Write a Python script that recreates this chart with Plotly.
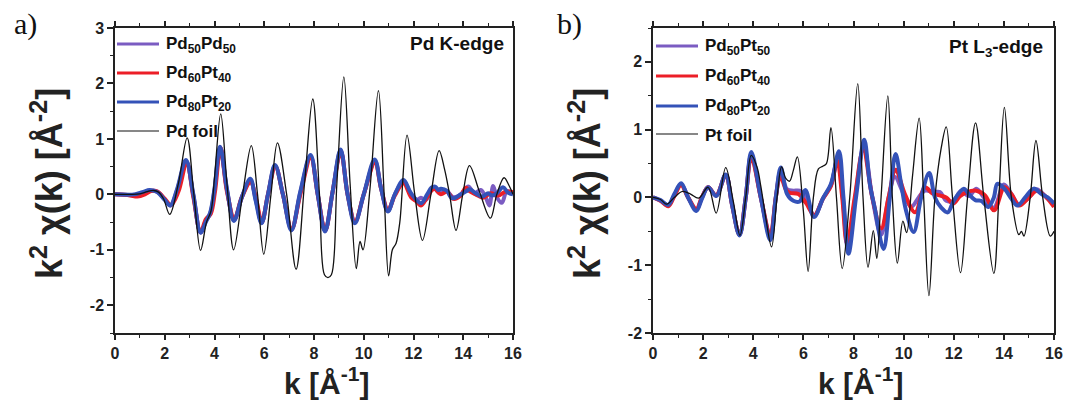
import plotly.graph_objects as go

W, H = 1075, 402

# ---------------- data : panel a (Pd K-edge) ----------------
A_NAMES = ["Pd<sub>50</sub>Pd<sub>50</sub>", "Pd<sub>60</sub>Pt<sub>40</sub>",
           "Pd<sub>80</sub>Pt<sub>20</sub>", "Pd foil"]

A_PURPLE_K = [0, 0.7, 1.0, 1.4, 1.7, 2.0, 2.23, 2.5, 2.86, 3.15, 3.44, 3.65, 3.83, 4.0, 4.23, 4.5, 4.79, 5.1, 5.44,
              5.66, 5.9, 6.15, 6.44, 6.75, 7.1, 7.45, 7.86, 8.15, 8.45, 8.75, 9.07, 9.35, 9.65, 10.0, 10.45, 10.7,
              10.97, 11.25, 11.6, 11.9, 12.15, 12.3, 12.5, 12.8, 13.05, 13.3, 13.6, 13.9, 14.2, 14.45, 14.7, 14.9,
              15.05, 15.2, 15.35, 15.55, 15.75, 16.0]
A_PURPLE = [0, -0.01, 0.01, 0.07, 0.05, -0.09, -0.2, 0.08, 0.6, -0.02, -0.69, -0.48, -0.34, 0.08, 0.85, 0.08, -0.46,
            -0.05, 0.25, -0.1, -0.51, 0.0, 0.52, 0.0, -0.64, 0.03, 0.69, 0.0, -0.66, 0.05, 0.79, 0.0, -0.5, 0.0, 0.6,
            0.1, -0.3, 0.0, 0.23, 0.0, -0.1, -0.06, -0.1, 0.12, 0.02, 0.07, -0.05, 0.0, 0.14, 0.02, 0.08, -0.05,
            -0.2, 0.15, -0.05, -0.15, 0.05, 0.03]

A_RED_K = [0, 0.6, 0.9, 1.2, 1.45, 1.7, 2.0, 2.25, 2.55, 2.88, 3.15, 3.44, 3.65, 3.85, 4.02, 4.24, 4.5, 4.8, 5.1,
           5.45, 5.68, 5.9, 6.15, 6.45, 6.75, 7.1, 7.45, 7.87, 8.15, 8.45, 8.75, 9.08, 9.35, 9.65, 10.0, 10.45,
           10.7, 10.98, 11.25, 11.6, 11.9, 12.1, 12.3, 12.55, 12.7, 12.85, 13.1, 13.35, 13.6, 13.9, 14.1, 14.25,
           14.5, 14.8, 15.1, 15.4, 15.7, 16.0]
A_RED = [0, -0.02, -0.04, 0.0, 0.06, 0.05, -0.08, -0.19, 0.05, 0.57, -0.05, -0.68, -0.45, -0.35, 0.05, 0.84, 0.05,
         -0.44, -0.05, 0.22, -0.1, -0.5, 0.0, 0.5, 0.0, -0.62, 0.0, 0.66, 0.0, -0.65, 0.05, 0.77, 0.0, -0.49, 0.0,
         0.57, 0.1, -0.28, -0.02, 0.2, -0.05, -0.12, -0.2, -0.05, 0.06, 0.1, 0.0, 0.05, -0.08, -0.02, 0.12, 0.06,
         0.0, -0.06, 0.02, -0.02, 0.05, 0.04]

A_BLUE_K = [0, 0.8, 1.1, 1.4, 1.7, 2.0, 2.22, 2.5, 2.85, 3.15, 3.44, 3.65, 3.82, 4.0, 4.22, 4.5, 4.78, 5.1, 5.44,
            5.65, 5.89, 6.15, 6.43, 6.75, 7.09, 7.45, 7.86, 8.15, 8.44, 8.75, 9.07, 9.35, 9.64, 10.0, 10.44, 10.7,
            10.97, 11.25, 11.6, 11.9, 12.3, 12.55, 12.72, 12.87, 13.0, 13.1, 13.35, 13.5, 13.63, 13.9, 14.1, 14.26,
            14.5, 14.77, 15.0, 15.15, 15.35, 15.6, 15.8, 16.0]
A_BLUE = [0, 0, 0.04, 0.08, 0.04, -0.1, -0.2, 0.1, 0.62, 0.0, -0.69, -0.5, -0.34, 0.1, 0.86, 0.1, -0.48, -0.05,
          0.28, -0.1, -0.52, 0.0, 0.53, 0.0, -0.65, 0.05, 0.71, 0.0, -0.67, 0.05, 0.81, 0.0, -0.52, 0.0, 0.63, 0.1,
          -0.31, 0.0, 0.26, 0.02, -0.16, 0.0, 0.12, 0.14, 0.08, 0.1, 0.06, -0.05, -0.07, 0.0, 0.05, 0.09, 0.02,
          -0.04, 0.02, -0.02, 0.02, 0.13, 0.03, 0.0]

A_FOIL_K = [0, 0.6, 1.0, 1.3, 1.55, 1.75, 1.95, 2.2, 2.55, 2.9, 3.17, 3.44, 3.68, 3.86, 4.0, 4.25, 4.5, 4.77, 5.13,
            5.48, 5.73, 5.98, 6.27, 6.53, 6.9, 7.28, 7.62, 7.95, 8.22, 8.42, 8.56, 8.7, 8.92, 9.2, 9.45, 9.7, 9.85,
            9.97, 10.25, 10.59, 10.82, 11.0, 11.15, 11.3, 11.45, 11.74, 12.05, 12.36, 12.7, 13.03, 13.25, 13.45,
            13.71, 13.98, 14.25, 14.65, 15.09, 15.35, 15.64, 15.85, 16.0]
A_FOIL = [0, 0, 0.01, 0.05, 0.07, 0.04, -0.08, -0.36, 0.2, 1.02, 0.0, -1.01, -0.5, -0.3, 0.3, 1.45, 0.2, -1.0, 0.0,
          0.88, 0.0, -1.08, 0.0, 0.93, 0.0, -1.35, 0.2, 1.72, 0.0, -1.45, -1.5, -1.45, 0.2, 2.12, 0.2, -1.34, -0.85,
          -1.0, 0.1, 1.87, 0.0, -1.47, -1.0, -0.88, -0.5, 1.07, 0.0, -0.83, 0.0, 0.79, 0.45, 0.0, -0.65, 0.0, 0.52,
          0.05, -0.43, 0.0, 0.3, 0.15, 0.0]

# ---------------- data : panel b (Pt L3-edge) ----------------
B_NAMES = ["Pd<sub>50</sub>Pt<sub>50</sub>", "Pd<sub>60</sub>Pt<sub>40</sub>",
           "Pd<sub>80</sub>Pt<sub>20</sub>", "Pt foil"]

B_PURPLE_K = [0, 0.3, 0.61, 0.85, 1.12, 1.4, 1.73, 1.95, 2.2, 2.52, 2.9, 3.15, 3.45, 3.7, 3.92, 4.3, 4.68, 4.9, 5.09,
              5.35, 5.6, 5.85, 6.1, 6.43, 6.78, 7.1, 7.38, 7.57, 7.77, 8.07, 8.41, 8.75, 9.1, 9.4, 9.65, 10.0, 10.3,
              10.6, 10.85, 11.2, 11.45, 11.7, 11.98, 12.3, 12.6, 12.9, 13.2, 13.6, 14.0, 14.3, 14.6, 15.0, 15.3,
              15.7, 16.0]
B_PURPLE = [0, -0.05, -0.12, 0.03, 0.2, 0.0, -0.18, 0.0, 0.15, 0.03, 0.33, -0.1, -0.55, 0.0, 0.63, 0.0, -0.58, 0.0,
            0.38, 0.12, 0.1, 0.1, 0.0, -0.27, -0.02, 0.18, 0.6, 0.0, -0.72, 0.0, 0.75, 0.0, -0.55, 0.0, 0.3, 0.05,
            -0.14, 0.0, 0.1, 0.08, 0.08, -0.05, -0.05, 0.1, 0.02, 0.13, 0.0, -0.15, 0.19, 0.05, -0.1, 0.0, 0.12,
            0.0, -0.1]

B_RED_K = [0, 0.3, 0.61, 0.85, 1.12, 1.4, 1.73, 1.95, 2.2, 2.52, 2.9, 3.15, 3.45, 3.7, 3.92, 4.3, 4.68, 4.9, 5.08,
           5.3, 5.45, 5.8, 6.1, 6.44, 6.78, 7.1, 7.35, 7.55, 7.74, 8.05, 8.39, 8.75, 9.1, 9.4, 9.68, 10.05, 10.46,
           10.85, 11.15, 11.43, 11.7, 11.98, 12.25, 12.53, 12.9, 13.25, 13.61, 14.02, 14.3, 14.61, 15.0, 15.32,
           15.7, 16.0]
B_RED = [0, -0.05, -0.13, 0.02, 0.18, 0.0, -0.17, 0.0, 0.15, 0.03, 0.33, -0.1, -0.55, 0.0, 0.6, 0.0, -0.55, 0.0,
         0.32, 0.12, 0.07, 0.05, -0.08, -0.26, -0.02, 0.17, 0.54, 0.0, -0.68, 0.0, 0.7, 0.0, -0.46, 0.0, 0.41, 0.05,
         -0.22, 0.15, 0.06, 0.03, 0.0, -0.09, 0.02, 0.08, 0.1, 0.03, -0.19, 0.15, 0.05, -0.12, 0.0, 0.1, 0.0, -0.14]

B_BLUE_K = [0, 0.3, 0.61, 0.85, 1.12, 1.4, 1.73, 1.95, 2.2, 2.52, 2.9, 3.15, 3.45, 3.7, 3.92, 4.3, 4.68, 4.9, 5.1,
            5.35, 5.6, 5.85, 6.08, 6.42, 6.8, 7.1, 7.42, 7.6, 7.8, 8.1, 8.43, 8.65, 8.84, 9.2, 9.45, 9.68, 9.9,
            10.1, 10.4, 10.7, 11.02, 11.25, 11.5, 11.76, 12.0, 12.4, 12.6, 12.86, 13.1, 13.38, 13.6, 13.74, 14.02,
            14.3, 14.54, 14.85, 15.19, 15.5, 15.75, 16.0]
B_BLUE = [0, -0.04, -0.11, 0.05, 0.21, 0.0, -0.2, -0.02, 0.15, 0.02, 0.34, -0.1, -0.56, 0.0, 0.67, 0.0, -0.63, 0.0,
          0.44, 0.05, -0.05, -0.06, 0.11, -0.29, 0.0, 0.2, 0.68, 0.0, -0.83, 0.0, 0.85, 0.2, -0.14, -0.76, 0.0,
          0.64, 0.2, -0.2, -0.51, 0.0, 0.36, 0.0, -0.15, -0.22, -0.05, 0.13, 0.05, -0.04, -0.05, -0.14, 0.0, 0.2,
          0.13, -0.02, -0.12, 0.0, 0.13, 0.05, 0.0, -0.09]

B_FOIL_K = [0, 0.3, 0.55, 0.85, 1.18, 1.5, 1.82, 2.2, 2.52, 2.9, 3.2, 3.47, 3.7, 3.92, 4.15, 4.3, 4.5, 4.73, 4.95,
            5.13, 5.3, 5.45, 5.6, 5.76, 6.0, 6.19, 6.4, 6.6, 6.77, 6.92, 7.1, 7.32, 7.55, 7.85, 8.17, 8.38, 8.58,
            8.79, 8.93, 9.1, 9.37, 9.55, 9.75, 9.97, 10.12, 10.35, 10.62, 10.8, 11.01, 11.25, 11.5, 11.7, 11.95,
            12.27, 12.55, 12.87, 13.2, 13.6, 13.8, 14.02, 14.3, 14.6, 14.7, 14.8, 15.05, 15.28, 15.55, 15.85, 16.0]
B_FOIL = [0, -0.03, -0.1, 0.0, 0.09, 0.05, -0.01, 0.15, -0.23, 0.44, -0.05, -0.56, 0.0, 0.62, 0.45, 0.17, -0.3,
          -0.73, 0.0, 0.45, 0.28, 0.24, 0.4, 0.6, -0.2, -1.09, 0.0, 0.42, 0.46, 0.5, 1.03, 0.0, -1.05, 0.0, 1.68,
          0.0, -1.03, -0.49, -0.9, 0.0, 1.5, 0.0, -0.97, -0.35, -0.52, 0.3, 1.17, 0.0, -1.45, 0.0, 0.73, 1.04, 0.0,
          -1.11, 0.0, 1.1, 0.0, -1.12, 0.0, 1.33, 0.0, -0.55, -0.5, -0.57, 0.0, 0.84, 0.0, -0.57, -0.5]

X_TICKS = [0, 2, 4, 6, 8, 10, 12, 14, 16]
X_TICKTEXT = ["0", "2", "4", "6", "8", "10", "12", "14", "16"]
A_Y_TICKS = [-2, -1, 0, 1, 2, 3]
A_Y_TICKTEXT = ["-2", "-1", "0", "1", "2", "3"]
B_Y_TICKS = [-2, -1, 0, 1, 2]
B_Y_TICKTEXT = ["-2", "-1", "0", "1", "2"]

COLORS = ["#7b5cc2", "#ec1e27", "#3452b8", "#111111"]
WIDTHS = [4, 4, 4, 1.3]

def px(x):
    return x / W

def py(y):
    return 1 - y / H

fig = go.Figure()

panel_a = [(A_PURPLE_K, A_PURPLE), (A_RED_K, A_RED), (A_BLUE_K, A_BLUE), (A_FOIL_K, A_FOIL)]
panel_b = [(B_PURPLE_K, B_PURPLE), (B_RED_K, B_RED), (B_BLUE_K, B_BLUE), (B_FOIL_K, B_FOIL)]

for i, (k, c) in enumerate(panel_a):
    fig.add_trace(go.Scatter(x=k, y=c, mode="lines", name=A_NAMES[i], showlegend=False,
                             line=dict(color=COLORS[i], width=WIDTHS[i], shape="spline", smoothing=1.0),
                             xaxis="x", yaxis="y"))
for i, (k, c) in enumerate(panel_b):
    fig.add_trace(go.Scatter(x=k, y=c, mode="lines", name=B_NAMES[i], showlegend=False,
                             line=dict(color=COLORS[i], width=WIDTHS[i], shape="spline", smoothing=1.0),
                             xaxis="x2", yaxis="y2"))

AXC = "#222222"
SANS = "Liberation Sans, Arial, sans-serif"
tickfont = dict(family=SANS, size=16, color=AXC, weight="bold")

def xaxis(domain, anchor):
    return dict(domain=domain, anchor=anchor, range=[0, 16], tickvals=X_TICKS, ticktext=X_TICKTEXT,
                ticks="outside", ticklen=5, tickwidth=1.5, tickcolor=AXC, showline=True, linecolor=AXC,
                linewidth=1.5, mirror="ticks", showgrid=False, zeroline=False, tickfont=tickfont,
                minor=dict(dtick=1, ticks="outside", ticklen=3.5, tickwidth=1.2, tickcolor=AXC),
                automargin=False)

def yaxis(domain, anchor, rng, tv, tt):
    return dict(domain=domain, anchor=anchor, range=rng, tickvals=tv, ticktext=tt,
                ticks="outside", ticklen=6, tickwidth=1.5, tickcolor=AXC, showline=True, linecolor=AXC,
                linewidth=1.5, mirror=True, showgrid=False, zeroline=False, tickfont=tickfont,
                minor=dict(dtick=0.5, ticks="outside", ticklen=3.5, tickwidth=1.2, tickcolor=AXC),
                automargin=False)

ydom = [py(325), py(20)]
fig.update_layout(
    width=W, height=H, margin=dict(l=0, r=0, t=0, b=0),
    paper_bgcolor="white", plot_bgcolor="white", showlegend=False,
    xaxis=xaxis([px(107), px(505)], "y"),
    yaxis=yaxis(ydom, "x", [-2.5, 3], A_Y_TICKS, A_Y_TICKTEXT),
    xaxis2=xaxis([px(645), px(1046)], "y2"),
    yaxis2=yaxis(ydom, "x2", [-2, 2.5], B_Y_TICKS, B_Y_TICKTEXT),
)

# manual legends (line samples + labels)
legfont = dict(family=SANS, size=17, color="#111111", weight="bold")
shapes, annos = [], []
for names, x0, x1, ys in [(A_NAMES, 109, 151, [36, 65, 94, 123]), (B_NAMES, 648, 690, [38, 68, 98, 126])]:
    for i, nm in enumerate(names):
        shapes.append(dict(type="line", xref="paper", yref="paper", x0=px(x0), x1=px(x1),
                           y0=py(ys[i]), y1=py(ys[i]), line=dict(color=COLORS[i], width=WIDTHS[i] * 0.8)))
        annos.append(dict(xref="paper", yref="paper", x=px(x1 + 5), y=py(ys[i] + 1), text=nm,
                          showarrow=False, xanchor="left", yanchor="middle", font=legfont))

edgefont = dict(family=SANS, size=19, color="#111111", weight="bold")
annos.append(dict(xref="paper", yref="paper", x=px(498), y=py(35), text="Pd K-edge", showarrow=False,
                  xanchor="right", yanchor="middle", font=edgefont))
annos.append(dict(xref="paper", yref="paper", x=px(1037), y=py(40), text="Pt L<sub>3</sub>-edge",
                  showarrow=False, xanchor="right", yanchor="middle", font=edgefont))

# axis titles
titlefont_y = dict(family=SANS, size=36, color=AXC, weight="bold")
titlefont_x = dict(family=SANS, size=30, color=AXC, weight="bold")
YTITLE = "k<sup>2</sup> χ(k) [Å<sup>-2</sup>]"
XTITLE = "k [Å<sup>-1</sup>]"
for xc in [39, 577]:
    annos.append(dict(xref="paper", yref="paper", x=px(xc), y=py(176), text=YTITLE, textangle=-90,
                      showarrow=False, xanchor="center", yanchor="middle", font=titlefont_y))
for xc in [318, 852]:
    annos.append(dict(xref="paper", yref="paper", x=px(xc), y=py(373), text=XTITLE,
                      showarrow=False, xanchor="center", yanchor="middle", font=titlefont_x))

labfont = dict(family="Liberation Serif, Times New Roman, serif", size=30, color="#111111")
annos.append(dict(xref="paper", yref="paper", x=px(17), y=py(16), text="a)", showarrow=False,
                  xanchor="center", yanchor="middle", font=labfont))
annos.append(dict(xref="paper", yref="paper", x=px(561), y=py(16), text="b)", showarrow=False,
                  xanchor="center", yanchor="middle", font=labfont))

fig.update_layout(shapes=shapes, annotations=annos)
fig.write_html("out.html")
